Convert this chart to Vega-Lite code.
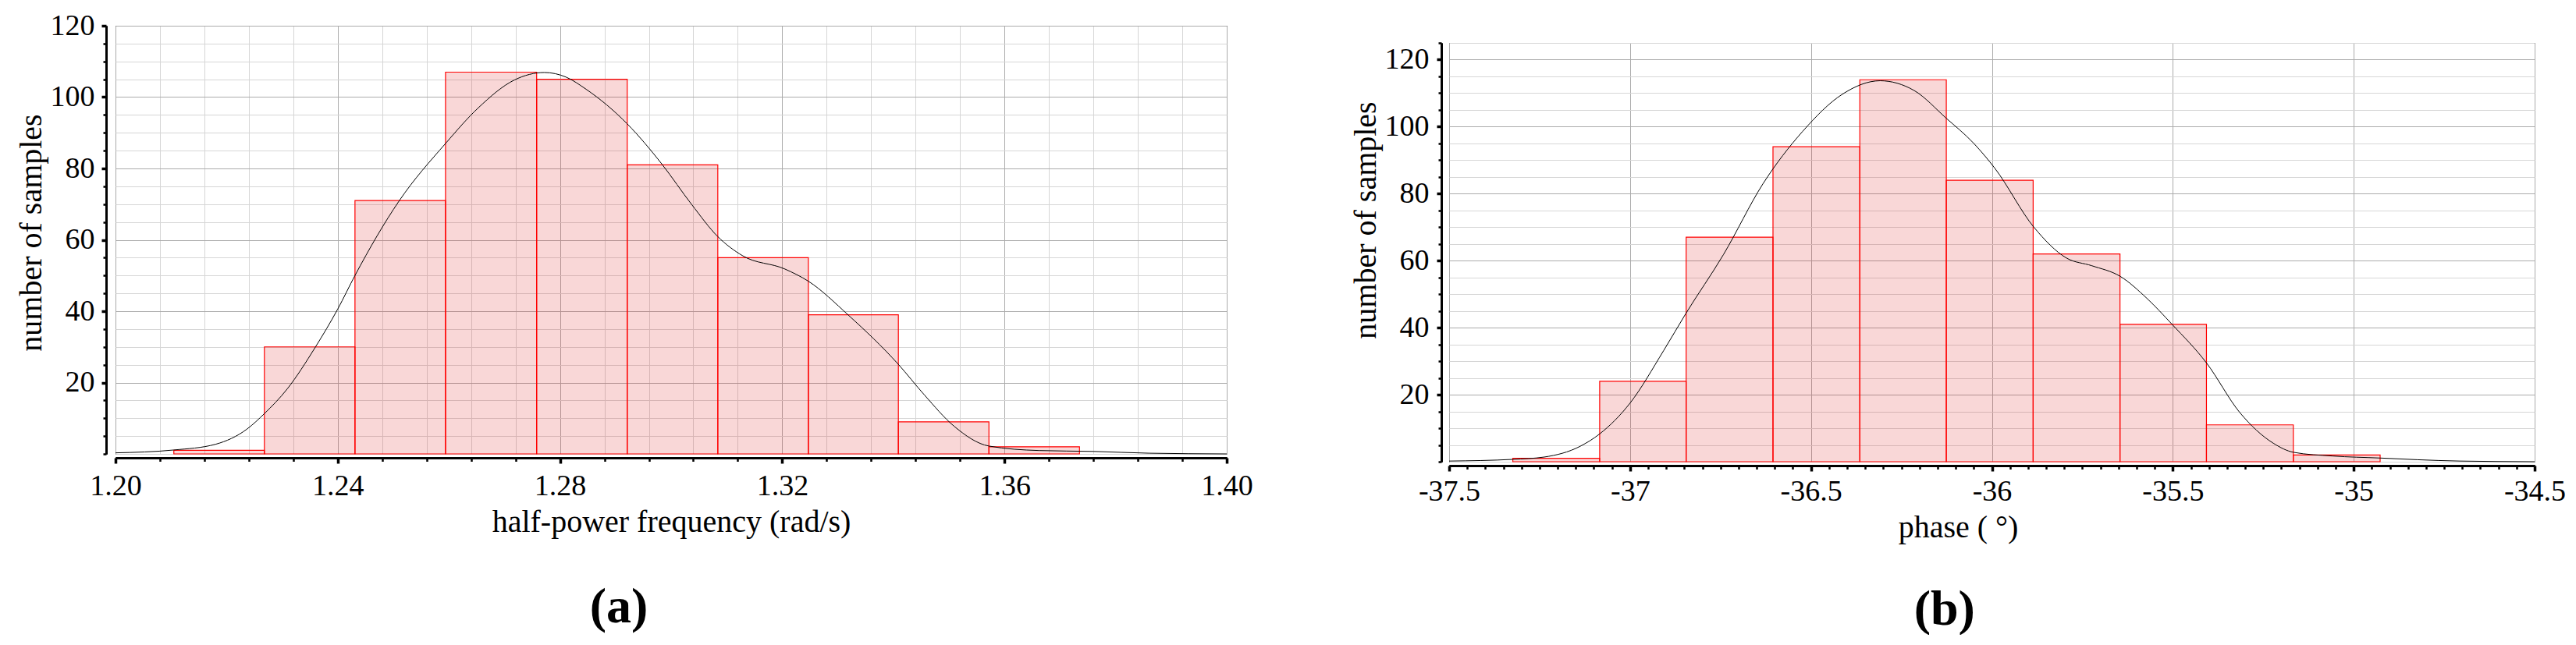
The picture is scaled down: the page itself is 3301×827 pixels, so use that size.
{
  "$schema": "https://vega.github.io/schema/vega-lite/v6.json",
  "padding": {"left": 19, "top": 13, "right": 0, "bottom": 0},
  "background": "white",
  "spacing": 123,
  "config": {
    "font": "Liberation Serif",
    "view": {"stroke": "black", "strokeWidth": 1},
    "axis": {
      "domainColor": "black", "domainWidth": 3, "tickColor": "black",
      "labelColor": "black", "titleColor": "black",
      "labelFont": "Liberation Serif", "titleFont": "Liberation Serif",
      "labelFontSize": 38, "titleFontSize": 40, "titleFontWeight": "normal",
      "labelFlush": false, "labelOverlap": false, "gridWidth": 1
    },
    "title": {"font": "Liberation Serif", "color": "black"}
  },
  "datasets": {
    "barsA": [
      {"lo": 1.2105, "hi": 1.2268, "n": 1},
      {"lo": 1.2268, "hi": 1.2431, "n": 30},
      {"lo": 1.2431, "hi": 1.2594, "n": 71},
      {"lo": 1.2594, "hi": 1.2758, "n": 107},
      {"lo": 1.2758, "hi": 1.2921, "n": 105},
      {"lo": 1.2921, "hi": 1.3084, "n": 81},
      {"lo": 1.3084, "hi": 1.3247, "n": 55},
      {"lo": 1.3247, "hi": 1.3409, "n": 39},
      {"lo": 1.3409, "hi": 1.3572, "n": 9},
      {"lo": 1.3572, "hi": 1.3735, "n": 2}
    ],
    "curveA": [
      {"x": 1.200, "y": 0.3}, {"x": 1.2105, "y": 1.1}, {"x": 1.218, "y": 2.7},
      {"x": 1.2237, "y": 7}, {"x": 1.2268, "y": 11.3}, {"x": 1.2309, "y": 18.2},
      {"x": 1.236, "y": 30}, {"x": 1.240, "y": 40.6}, {"x": 1.2431, "y": 50},
      {"x": 1.251, "y": 70.8}, {"x": 1.2594, "y": 87}, {"x": 1.2653, "y": 97},
      {"x": 1.2718, "y": 104.8}, {"x": 1.2772, "y": 106.9}, {"x": 1.2811, "y": 105.6},
      {"x": 1.2847, "y": 102.2}, {"x": 1.2921, "y": 92.5}, {"x": 1.2984, "y": 81.1},
      {"x": 1.3037, "y": 69.9}, {"x": 1.3084, "y": 60.9}, {"x": 1.3128, "y": 55.6},
      {"x": 1.3205, "y": 51.8}, {"x": 1.3247, "y": 48.4}, {"x": 1.3319, "y": 38.9},
      {"x": 1.3409, "y": 25.1}, {"x": 1.3456, "y": 16.5}, {"x": 1.3509, "y": 7.8},
      {"x": 1.3572, "y": 2.2}, {"x": 1.3662, "y": 0.95}, {"x": 1.376, "y": 0.7},
      {"x": 1.386, "y": 0.2}, {"x": 1.400, "y": 0}
    ],
    "barsB": [
      {"lo": -37.324, "hi": -37.084, "n": 1},
      {"lo": -37.084, "hi": -36.845, "n": 24},
      {"lo": -36.845, "hi": -36.605, "n": 67},
      {"lo": -36.605, "hi": -36.365, "n": 94},
      {"lo": -36.365, "hi": -36.126, "n": 114},
      {"lo": -36.126, "hi": -35.886, "n": 84},
      {"lo": -35.886, "hi": -35.646, "n": 62},
      {"lo": -35.646, "hi": -35.407, "n": 41},
      {"lo": -35.407, "hi": -35.167, "n": 11},
      {"lo": -35.167, "hi": -34.927, "n": 2}
    ],
    "curveB": [
      {"x": -37.5, "y": 0.2}, {"x": -37.324, "y": 0.7}, {"x": -37.237, "y": 1.4},
      {"x": -37.138, "y": 4.6}, {"x": -37.084, "y": 8.3}, {"x": -37.0, "y": 17.5},
      {"x": -36.907, "y": 33.2}, {"x": -36.846, "y": 44.2}, {"x": -36.742, "y": 61.8},
      {"x": -36.633, "y": 82.9}, {"x": -36.523, "y": 98.6}, {"x": -36.413, "y": 109.7},
      {"x": -36.309, "y": 113.7}, {"x": -36.215, "y": 110.8}, {"x": -36.126, "y": 102.5},
      {"x": -36.050, "y": 95}, {"x": -35.992, "y": 87.6}, {"x": -35.884, "y": 70},
      {"x": -35.794, "y": 60.8}, {"x": -35.724, "y": 58.5}, {"x": -35.645, "y": 55.3},
      {"x": -35.572, "y": 48.8}, {"x": -35.502, "y": 41}, {"x": -35.407, "y": 29.5},
      {"x": -35.315, "y": 14.7}, {"x": -35.222, "y": 5.5}, {"x": -35.166, "y": 2.8},
      {"x": -35.058, "y": 1.7}, {"x": -34.927, "y": 1.1}, {"x": -34.824, "y": 0.6},
      {"x": -34.707, "y": 0.2}, {"x": -34.5, "y": 0}
    ]
  },
  "hconcat": [
    {
      "width": 1424,
      "height": 549,
      "title": {"text": "(a)", "orient": "bottom", "frame": "group", "anchor": "middle", "dx": -67, "fontSize": 64, "fontWeight": "bold", "offset": 58},
      "resolve": {"axis": {"x": "independent", "y": "independent"}},
      "layer": [
        {
          "data": {"name": "barsA"},
          "mark": {"type": "rect", "fill": "#e02020", "fillOpacity": 0.18, "stroke": "#ff0000", "strokeWidth": 1.2},
          "encoding": {
            "x": {"field": "lo", "type": "quantitative",
              "scale": {"domain": [1.2, 1.4], "nice": false, "zero": false},
              "axis": {"orient": "bottom", "offset": 5, "title": null, "labels": false,
                "values": [1.208, 1.216, 1.224, 1.232, 1.248, 1.256, 1.264, 1.272, 1.288, 1.296, 1.304, 1.312, 1.328, 1.336, 1.344, 1.352, 1.368, 1.376, 1.384, 1.392],
                "tickSize": 4.5, "tickWidth": 2.5, "grid": true, "gridColor": "#d6d6d6"}},
            "x2": {"field": "hi"},
            "y": {"field": "n", "type": "quantitative",
              "scale": {"domain": [0, 120], "nice": false},
              "axis": {"orient": "left", "offset": 12, "title": null, "labels": false,
                "values": [0, 5, 10, 15, 25, 30, 35, 45, 50, 55, 65, 70, 75, 85, 90, 95, 105, 110, 115],
                "tickSize": 4, "tickWidth": 2.5, "grid": true, "gridColor": "#d6d6d6"}},
            "y2": {"datum": 0}
          }
        },
        {
          "data": {"name": "curveA"},
          "mark": {"type": "line", "color": "black", "strokeWidth": 1, "interpolate": "monotone"},
          "encoding": {
            "x": {"field": "x", "type": "quantitative",
              "axis": {"orient": "bottom", "offset": 5, "values": [1.2, 1.24, 1.28, 1.32, 1.36, 1.4], "format": ".2f",
                "tickSize": 7, "tickWidth": 3.5, "labelPadding": 10, "grid": true, "gridColor": "#ababab",
                "title": "half-power frequency (rad/s)", "titlePadding": 7}},
            "y": {"field": "y", "type": "quantitative",
              "axis": {"orient": "left", "offset": 12, "values": [20, 40, 60, 80, 100, 120],
                "tickSize": 6, "tickWidth": 3.5, "labelPadding": 9, "grid": true, "gridColor": "#ababab",
                "title": "number of samples", "titlePadding": 4, "titleY": 265}}
          }
        }
      ]
    },
    {
      "title": {"text": "(b)", "orient": "bottom", "frame": "bounds", "anchor": "middle", "dx": -17, "fontSize": 64, "fontWeight": "bold", "offset": 53},
      "spacing": 0,
      "vconcat": [
        {
          "width": 1391,
          "height": 20,
          "view": {"stroke": null},
          "data": {"values": []},
          "mark": {"type": "point"},
          "encoding": {}
        },
        {
          "width": 1391,
          "height": 537,
          "resolve": {"axis": {"x": "independent", "y": "independent"}},
          "layer": [
            {
              "data": {"name": "barsB"},
              "mark": {"type": "rect", "fill": "#e02020", "fillOpacity": 0.18, "stroke": "#ff0000", "strokeWidth": 1.2},
              "encoding": {
                "x": {"field": "lo", "type": "quantitative",
                  "scale": {"domain": [-37.5, -34.5], "nice": false, "zero": false},
                  "axis": {"orient": "bottom", "offset": 5, "title": null, "labels": false, "grid": false,
                    "values": [-37.45, -37.4, -37.35, -37.3, -37.25, -37.2, -37.15, -37.1, -37.05,
                      -36.95, -36.9, -36.85, -36.8, -36.75, -36.7, -36.65, -36.6, -36.55,
                      -36.45, -36.4, -36.35, -36.3, -36.25, -36.2, -36.15, -36.1, -36.05,
                      -35.95, -35.9, -35.85, -35.8, -35.75, -35.7, -35.65, -35.6, -35.55,
                      -35.45, -35.4, -35.35, -35.3, -35.25, -35.2, -35.15, -35.1, -35.05,
                      -34.95, -34.9, -34.85, -34.8, -34.75, -34.7, -34.65, -34.6, -34.55],
                    "tickSize": 4.5, "tickWidth": 2.5}},
                "x2": {"field": "hi"},
                "y": {"field": "n", "type": "quantitative",
                  "scale": {"domain": [0, 125], "nice": false},
                  "axis": {"orient": "left", "offset": 10, "title": null, "labels": false,
                    "values": [0, 5, 10, 15, 25, 30, 35, 45, 50, 55, 65, 70, 75, 85, 90, 95, 105, 110, 115, 125],
                    "tickSize": 4, "tickWidth": 2.5, "grid": true, "gridColor": "#d6d6d6"}},
                "y2": {"datum": 0}
              }
            },
            {
              "data": {"name": "curveB"},
              "mark": {"type": "line", "color": "black", "strokeWidth": 1, "interpolate": "monotone"},
              "encoding": {
                "x": {"field": "x", "type": "quantitative",
                  "axis": {"orient": "bottom", "offset": 5, "values": [-37.5, -37, -36.5, -36, -35.5, -35, -34.5],
                    "labelExpr": "replace(format(datum.value, '.1~f'), '\u2212', '-')",
                    "tickSize": 7, "tickWidth": 3.5, "labelPadding": 7, "grid": true, "gridColor": "#ababab",
                    "title": "phase ( °)", "titlePadding": 7, "titleX": 652}},
                "y": {"field": "y", "type": "quantitative",
                  "axis": {"orient": "left", "offset": 10, "values": [20, 40, 60, 80, 100, 120],
                    "tickSize": 6, "tickWidth": 3.5, "labelPadding": 10, "grid": true, "gridColor": "#ababab",
                    "title": "number of samples", "titlePadding": 4, "titleY": 227}}
              }
            }
          ]
        }
      ]
    }
  ]
}
